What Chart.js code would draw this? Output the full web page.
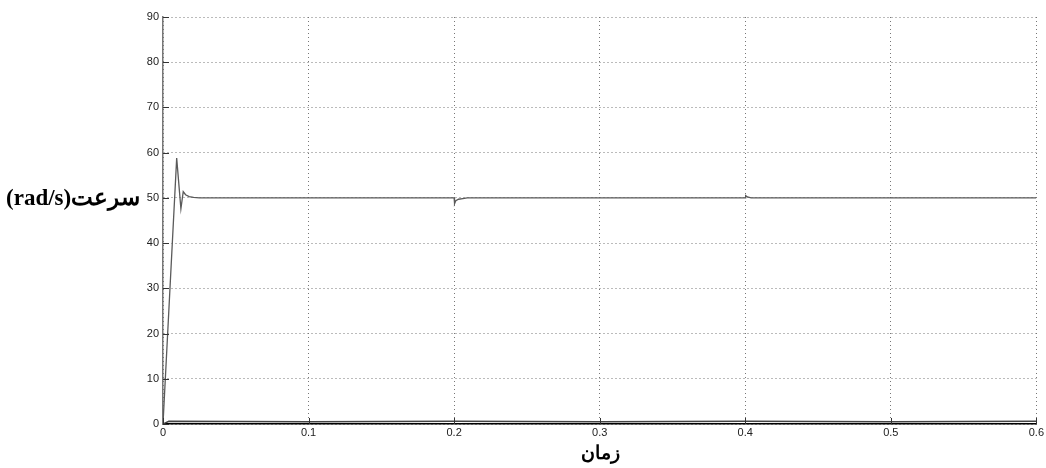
<!DOCTYPE html>
<html>
<head>
<meta charset="utf-8">
<script src="https://cdn.jsdelivr.net/npm/chart.js@4.4.0/dist/chart.umd.min.js"></script>
<style>
  html, body { margin: 0; padding: 0; background: #fff; }
  #wrap { position: relative; width: 1046px; height: 468px; }
  #ytitle {
    position: absolute; left: 6px; top: 184px; width: 142px;
    direction: rtl; text-align: left; white-space: nowrap;
    font-family: "Liberation Serif", "DejaVu Serif", serif; font-weight: bold; font-size: 23px; color: #000;
  }
  #xtitle {
    position: absolute; left: 560px; top: 441px; width: 80px; text-align: center;
    direction: rtl;
    font-family: "Liberation Serif", "DejaVu Serif", serif; font-weight: bold; font-size: 19px; color: #000;
  }
</style>
</head>
<body>
<div id="wrap">
  <canvas id="speedChart" width="1046" height="468"></canvas>
  <div id="ytitle">سرعت(rad/s)</div>
  <div id="xtitle">زمان</div>
</div>
<script>
// Data
const timeSteps = [0, 0.0094, 0.0123, 0.0139, 0.0155, 0.018, 0.021, 0.025, 0.2, 0.2003, 0.2012, 0.203, 0.206, 0.209, 0.4, 0.4003, 0.4015, 0.404, 0.6];
const speedValues = [0, 58.8, 47.6, 51.4, 50.7, 50.3, 50.1, 50, 50, 48.7, 49.4, 49.7, 49.85, 50, 50, 50.5, 50.2, 50, 50];

const lowTimes = [0, 0.004, 0.1, 0.2, 0.3, 0.4, 0.5, 0.6];
const lowValues = [0, 0.6, 0.5, 0.6, 0.5, 0.6, 0.5, 0.6];

const xTicks = [0, 0.1, 0.2, 0.3, 0.4, 0.5, 0.6];
const yTicks = [0, 10, 20, 30, 40, 50, 60, 70, 80, 90];

const toPoints = (xs, ys) => xs.map((x, i) => ({ x: x, y: ys[i] }));

const tickFont = { family: "'Liberation Sans Narrow', 'Arial Narrow', 'Liberation Sans', sans-serif", size: 11 };

// small inward tick marks like the matlab axes
const innerTicks = {
  id: 'innerTicks',
  afterDraw(chart) {
    const c = chart.ctx;
    const area = chart.chartArea;
    c.save();
    c.strokeStyle = '#333';
    c.lineWidth = 1;
    chart.scales.y.ticks.forEach(t => {
      const y = Math.round(chart.scales.y.getPixelForValue(t.value)) + 0.5;
      c.beginPath(); c.moveTo(area.left, y); c.lineTo(area.left + 6, y); c.stroke();
    });
    chart.scales.x.ticks.forEach(t => {
      const x = Math.round(chart.scales.x.getPixelForValue(t.value)) + 0.5;
      c.beginPath(); c.moveTo(x, area.bottom); c.lineTo(x, area.bottom - 6); c.stroke();
    });
    c.restore();
  }
};

const ctx = document.getElementById('speedChart').getContext('2d');
const speedChart = new Chart(ctx, {
  type: 'line',
  data: {
    datasets: [{
      label: 'speed',
      data: toPoints(timeSteps, speedValues),
      borderColor: '#5a5a5a',
      borderWidth: 1.3,
      pointRadius: 0,
      tension: 0
    }, {
      label: 'low',
      data: toPoints(lowTimes, lowValues),
      borderColor: '#444',
      borderWidth: 1.5,
      pointRadius: 0,
      tension: 0
    }]
  },
  options: {
    responsive: false,
    animation: false,
    layout: { padding: { top: 17, right: 8, bottom: 0, left: 0 } },
    plugins: {
      legend: { display: false },
      tooltip: { enabled: false }
    },
    scales: {
      x: {
        type: 'linear',
        min: 0,
        max: 0.6,
        afterBuildTicks: (axis) => { axis.ticks = xTicks.map(v => ({ value: v })); },
        afterFit: (axis) => { axis.height = 44; },
        ticks: {
          font: tickFont,
          color: '#222',
          padding: 2,
          maxRotation: 0,
          callback: (v) => String(v)
        },
        grid: {
          color: '#777',
          lineWidth: 1,
          drawTicks: false
        },
        border: { display: true, color: '#000', width: 1.5, dash: [1, 3] }
      },
      y: {
        min: 0,
        max: 90,
        afterBuildTicks: (axis) => { axis.ticks = yTicks.map(v => ({ value: v })); },
        afterFit: (axis) => { axis.width = 163; },
        ticks: {
          font: tickFont,
          color: '#222',
          padding: 4
        },
        grid: {
          color: '#777',
          lineWidth: 1,
          drawTicks: false
        },
        border: { display: true, color: '#777', width: 1.5, dash: [1, 3] }
      }
    }
  },
  plugins: [innerTicks]
});
</script>
</body>
</html>
